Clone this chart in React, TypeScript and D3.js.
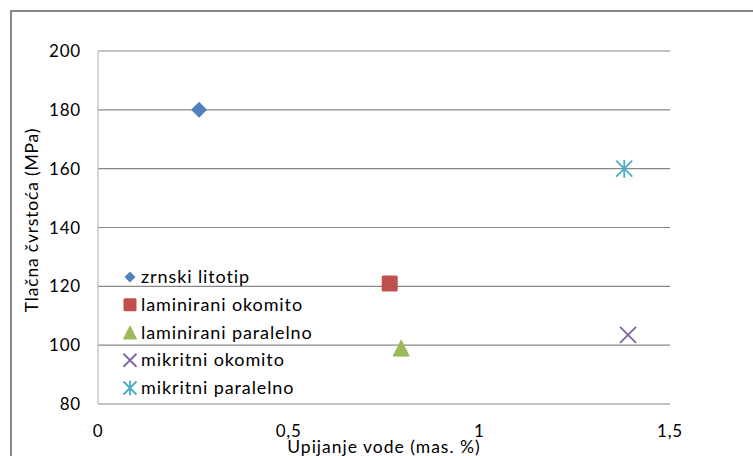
import React from 'react';
import * as d3 from 'd3';

const width = 753;
const height = 456;

// series
const seriesNames = ['zrnski litotip', 'laminirani okomito', 'laminirani paralelno', 'mikritni okomito', 'mikritni paralelno'];
const absorption = [0.265, 0.765, 0.795, 1.39, 1.38];
const strength = [180, 121, 99, 103.5, 160];
const seriesColors = ['#4F81BD', '#C0504D', '#9BBB59', '#8064A2', '#4BACC6'];
const seriesShapes = ['diamond', 'square', 'triangle', 'x', 'star'];

const xTicks = [0, 0.5, 1, 1.5];
const yTicks = [80, 100, 120, 140, 160, 180, 200];

const font = 'Lato, "Open Sans", sans-serif';

const Marker: React.FC<{ shape: string; color: string; x: number; y: number; s: number }> = ({ shape, color, x, y, s }) => {
  const h = s / 2;
  if (shape === 'diamond') {
    return <path d={`M${x},${y - h}L${x + h},${y}L${x},${y + h}L${x - h},${y}Z`} fill={color} />;
  }
  if (shape === 'square') {
    return <rect x={x - h} y={y - h} width={s} height={s} rx={1.5} fill={color} />;
  }
  if (shape === 'triangle') {
    return <path d={`M${x},${y - h}L${x + h},${y + h}L${x - h},${y + h}Z`} fill={color} strokeLinejoin="round" stroke={color} strokeWidth={1} />;
  }
  if (shape === 'x') {
    return (
      <path d={`M${x - h},${y - h}L${x + h},${y + h}M${x + h},${y - h}L${x - h},${y + h}`} stroke={color} strokeWidth={1.8} fill="none" />
    );
  }
  return (
    <path
      d={`M${x - h},${y - h}L${x + h},${y + h}M${x + h},${y - h}L${x - h},${y + h}M${x},${y - h - 1}L${x},${y + h + 1}`}
      stroke={color}
      strokeWidth={1.8}
      fill="none"
    />
  );
};

const App: React.FC = () => {
  const xScale = d3.scaleLinear().domain([0, 1.5]).range([98, 670]);
  const yScale = d3.scaleLinear().domain([80, 200]).range([404, 51]);

  const legendX = 130;
  const legendY = d3.scaleLinear().domain([0, 4]).range([277, 388]);

  return (
    <div style={{ position: 'absolute', left: 0, top: 0 }}>
      <svg width={width} height={height} style={{ display: 'block', background: '#fff' }}>
        {/* chart frame */}
        <rect x={11} y={11} width={760} height={470} fill="none" stroke="#878787" strokeWidth={2} />

        {/* gridlines */}
        {yTicks.slice(1).map(t => (
          <line key={t} x1={98} x2={670} y1={yScale(t)} y2={yScale(t)} stroke="#878787" strokeWidth={1.2} />
        ))}
        <line x1={98} x2={670} y1={yScale(80)} y2={yScale(80)} stroke="#878787" strokeWidth={1.2} />
        <line x1={98} x2={98} y1={yScale(200)} y2={yScale(80)} stroke="#BFBFBF" strokeWidth={1.2} />

        {/* y tick labels */}
        {yTicks.map(t => (
          <text key={t} x={81} y={yScale(t) + 6} textAnchor="end" fontFamily={font} fontSize={17} letterSpacing={0.8} fill="#000">
            {t}
          </text>
        ))}

        {/* x tick labels */}
        {xTicks.map(t => (
          <text key={t} x={xScale(t)} y={437} textAnchor="middle" fontFamily={font} fontSize={17} letterSpacing={0.8} fill="#000">
            {d3.format('')(t).replace('.', ',')}
          </text>
        ))}

        {/* axis titles */}
        <text x={384} y={453} textAnchor="middle" fontFamily={font} fontSize={17.5} letterSpacing={1} fill="#000">
          Upijanje vode (mas. %)
        </text>
        <text transform={`translate(38,220) rotate(-90)`} textAnchor="middle" fontFamily={font} fontSize={17.5} letterSpacing={0.8} fill="#000">
          Tlačna čvrstoća (MPa)
        </text>

        {/* points */}
        {seriesNames.map((name, i) => (
          <Marker key={name} shape={seriesShapes[i]} color={seriesColors[i]} x={xScale(absorption[i])} y={yScale(strength[i])} s={16} />
        ))}

        {/* legend */}
        {seriesNames.map((name, i) => (
          <g key={name}>
            <Marker shape={seriesShapes[i]} color={seriesColors[i]} x={legendX} y={legendY(i)} s={i === 0 ? 11 : 13} />
            <text x={legendX + 11} y={legendY(i) + 6} fontFamily={font} fontSize={18} letterSpacing={0.9} fill="#000">
              {name}
            </text>
          </g>
        ))}
      </svg>
    </div>
  );
};

export default App;
